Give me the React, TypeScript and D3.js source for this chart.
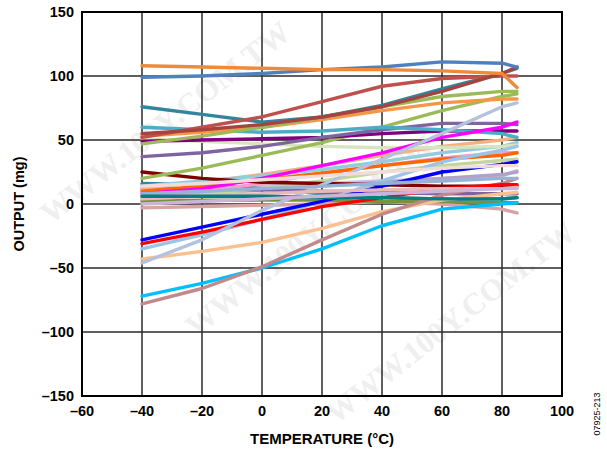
import React from "react";
import * as d3 from "d3";

const temps = [-40, -20, 0, 20, 40, 60, 80, 85];
const xTicks = [-60, -40, -20, 0, 20, 40, 60, 80, 100];
const yTicks = [-150, -100, -50, 0, 50, 100, 150];

// Each series: colour + values at temps
const seriesColors = [
  "#D9A3A3", "#CCC0DA", "#B3A2C7", "#C3D69B", "#77933C", "#31859C", "#8064A2",
  "#F4B183", "#93CDDD", "#FF99CC", "#FF6600", "#800000", "#D7E4BD", "#9BBB59",
  "#7F007F", "#8064A2", "#4BACC6", "#F79646", "#9BBB59", "#31859C", "#C0504D",
  "#A5443F", "#4F81BD", "#EE8A3A", "#FF00FF", "#FAC090", "#00BFFF", "#C08A8A",
  "#9DC3E6", "#FF0000", "#0000FF", "#B4C2DE", "#E6B9B8", "#95B3D7", "#008080",
  "#CCB3D9", "#F2DCDB",
];
const seriesValues: number[][] = [
  [-3, -2, -1, 0, 2, 0, -4, -7],
  [10, 12, 14, 16, 18, 20, 22, 26],
  [6, 8, 11, 14, 17, 20, 23, 25],
  [3, 7, 12, 18, 25, 30, 34, 35],
  [2, 3, 3, 3, 2, 2, 1, 1],
  [16, 15, 12, 8, 5, 4, 4, 5],
  [12, 12, 11, 10, 9, 8, 8, 8],
  [12, 17, 23, 30, 38, 45, 50, 52],
  [14, 18, 22, 27, 33, 40, 45, 48],
  [5, 10, 16, 24, 30, 36, 40, 40],
  [10, 14, 19, 24, 30, 35, 38, 40],
  [25, 20, 17, 16, 15, 14, 14, 14],
  [51, 49, 47, 45, 44, 44, 45, 46],
  [20, 28, 38, 48, 60, 73, 84, 86],
  [49, 50, 51, 52, 55, 57, 57, 57],
  [37, 40, 45, 52, 58, 63, 63, 62],
  [60, 58, 56, 57, 60, 58, 55, 52],
  [53, 56, 60, 66, 73, 79, 82, 82],
  [47, 53, 60, 68, 76, 84, 88, 88],
  [76, 70, 64, 68, 77, 90, 102, 106],
  [52, 60, 68, 80, 92, 98, 100, 100],
  [55, 58, 62, 68, 76, 88, 102, 107],
  [99, 100, 102, 105, 107, 111, 110, 107],
  [108, 107, 106, 105, 105, 104, 102, 91],
  [8, 12, 20, 30, 40, 52, 60, 64],
  [-43, -37, -30, -19, -6, 3, 8, 9],
  [-72, -62, -50, -35, -17, -4, 0, 1],
  [-78, -66, -49, -28, -8, 7, 16, 20],
  [-35, -24, -12, 2, 18, 33, 42, 45],
  [-31, -22, -12, -2, 5, 12, 15, 15],
  [-28, -18, -8, 2, 14, 25, 31, 33],
  [-46, -28, -5, 15, 35, 55, 76, 79],
  [4, 6, 8, 10, 11, 12, 12, 13],
  [8, 10, 12, 14, 16, 18, 20, 20],
  [6, 6, 6, 5, 5, 4, 4, 5],
  [0, 2, 4, 6, 8, 10, 12, 12],
  [14, 16, 19, 22, 25, 28, 30, 30],
];

const W = 607;
const H = 452;
const plot = { left: 82, right: 562, top: 12, bottom: 396 };

export default function App() {
  const x = d3.scaleLinear().domain([-60, 100]).range([plot.left, plot.right]);
  const y = d3.scaleLinear().domain([-150, 150]).range([plot.bottom, plot.top]);
  const line = d3
    .line<number>()
    .x((_, i) => x(temps[i]))
    .y((v) => y(v));
  const font = "Arial, 'Liberation Sans', Helvetica, sans-serif";
  const wm = [
    { x: 165, y: 122 },
    { x: 310, y: 235 },
    { x: 450, y: 322 },
  ];
  return (
    <svg
      width={W}
      height={H}
      style={{ position: "absolute", left: 0, top: 0, background: "#fff" }}
    >
      <rect x={0} y={0} width={W} height={H} fill="#fff" />
      {wm.map((p, i) => (
        <text
          key={"wm" + i}
          x={p.x}
          y={p.y}
          transform={`rotate(-38 ${p.x} ${p.y})`}
          textAnchor="middle"
          dy="0.35em"
          fontFamily="'Liberation Serif', 'DejaVu Serif', serif"
          fontWeight="bold"
          fontSize={31}
          fill="#efefef"
        >
          WWW.100Y.COM.TW
        </text>
      ))}
      {xTicks.slice(1, -1).map((t) => (
        <line
          key={"gx" + t}
          x1={x(t)}
          x2={x(t)}
          y1={plot.top}
          y2={plot.bottom}
          stroke="#2a2a2a"
          strokeWidth={1.5}
        />
      ))}
      {yTicks.slice(1, -1).map((t) => (
        <line
          key={"gy" + t}
          x1={plot.left}
          x2={plot.right}
          y1={y(t)}
          y2={y(t)}
          stroke="#2a2a2a"
          strokeWidth={1.5}
        />
      ))}
      {seriesValues.map((vals, i) => (
        <path
          key={"s" + i}
          d={line(vals) || ""}
          fill="none"
          stroke={seriesColors[i]}
          strokeWidth={3.4}
          strokeLinejoin="round"
          strokeLinecap="round"
        />
      ))}
      <rect
        x={plot.left}
        y={plot.top}
        width={plot.right - plot.left}
        height={plot.bottom - plot.top}
        fill="none"
        stroke="#000"
        strokeWidth={2}
      />
      {yTicks.map((t) => (
        <text
          key={"yl" + t}
          x={74}
          y={y(t)}
          dy="0.36em"
          textAnchor="end"
          fontFamily={font}
          fontWeight="bold"
          fontSize={14.5}
          fill="#000"
        >
          {t < 0 ? "\u2013" + Math.abs(t) : t}
        </text>
      ))}
      {xTicks.map((t) => (
        <text
          key={"xl" + t}
          x={x(t)}
          y={416}
          textAnchor="middle"
          fontFamily={font}
          fontWeight="bold"
          fontSize={14.5}
          fill="#000"
        >
          {t < 0 ? "\u2013" + Math.abs(t) : t}
        </text>
      ))}
      <text
        x={322}
        y={444}
        textAnchor="middle"
        fontFamily={font}
        fontWeight="bold"
        fontSize={15}
        fill="#000"
      >
        TEMPERATURE (°C)
      </text>
      <text
        transform={`translate(24 ${y(0)}) rotate(-90)`}
        textAnchor="middle"
        fontFamily={font}
        fontWeight="bold"
        fontSize={14.5}
        fill="#000"
      >
        OUTPUT (mg)
      </text>
      <text
        transform={`translate(600 414) rotate(-90)`}
        textAnchor="middle"
        fontFamily={font}
        fontSize={9}
        fill="#000"
      >
        07925-213
      </text>
    </svg>
  );
}
